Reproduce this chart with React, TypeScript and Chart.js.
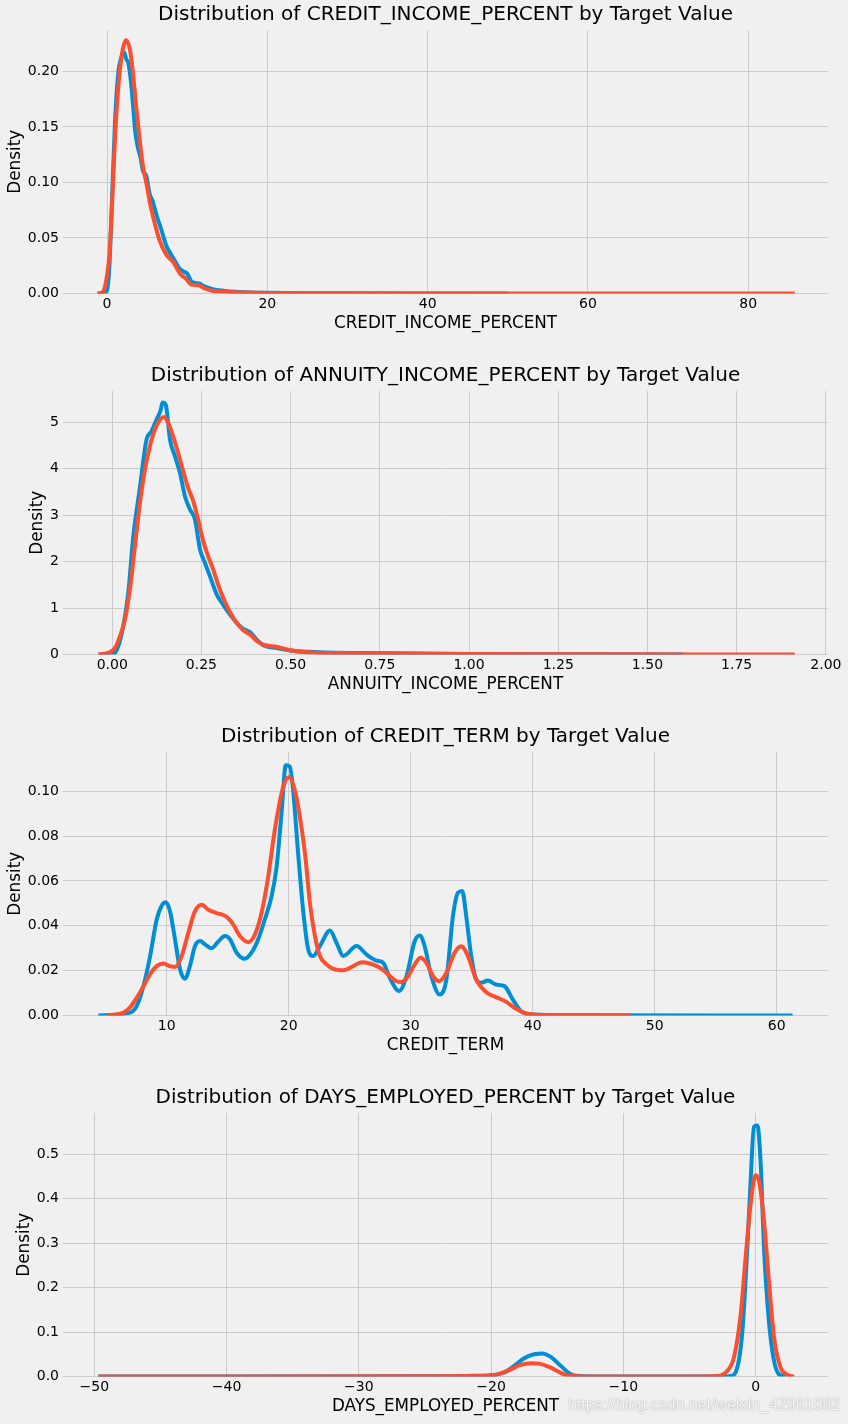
import React, { useEffect, useRef } from "react";
import { Chart, registerables } from "chart.js";

Chart.register(...registerables);

const FONT = "'DejaVu Sans', sans-serif";
const BLUE = "#008fd5";
const ORANGE = "#fc4f30";
const GRID = "#cbcbcb";

// ---------- Panel 1: CREDIT_INCOME_PERCENT ----------
const creditIncomeX0 = [-1.2, -0.5, 0, 0.3, 0.6, 1.0, 1.4, 1.8, 2.15, 2.4, 2.65, 3.0, 3.3, 3.5, 3.9, 4.2, 4.5, 4.9, 5.3, 5.7, 6.2, 6.8, 7.4, 8.0, 8.5, 9.0, 9.5, 10.0, 10.5, 11.0, 11.5, 12.0, 12.7, 13.5, 14.5, 16, 18, 20, 25, 30, 40, 50];
const creditIncomeY0 = [0, 0, 0.003, 0.025, 0.08, 0.155, 0.198, 0.213, 0.217, 0.211, 0.208, 0.19, 0.165, 0.147, 0.13, 0.122, 0.11, 0.106, 0.09, 0.083, 0.07, 0.057, 0.043, 0.035, 0.029, 0.023, 0.02, 0.018, 0.011, 0.0095, 0.009, 0.007, 0.005, 0.0035, 0.0025, 0.0015, 0.0009, 0.0006, 0.0003, 0.0002, 0.0001, 0];
const creditIncomeX1 = [-1.1, -0.5, 0, 0.3, 0.6, 1.0, 1.4, 1.8, 2.1, 2.4, 2.9, 3.3, 3.7, 4.1, 4.5, 4.95, 5.4, 6.0, 6.6, 7.4, 8.3, 9.1, 9.9, 10.5, 11.4, 12.2, 13.1, 14.5, 17, 20, 30, 50, 85.8];
const creditIncomeY1 = [0, 0.0015, 0.016, 0.035, 0.075, 0.14, 0.185, 0.213, 0.224, 0.228, 0.218, 0.194, 0.164, 0.137, 0.114, 0.098, 0.08, 0.062, 0.047, 0.035, 0.028, 0.018, 0.013, 0.008, 0.0075, 0.0045, 0.0025, 0.0015, 0.0009, 0.0005, 0.0002, 0.0001, 0];
const creditIncomeXTicks = [0, 20, 40, 60, 80];
const creditIncomeYTicks = [0, 0.05, 0.1, 0.15, 0.2];

// ---------- Panel 2: ANNUITY_INCOME_PERCENT ----------
const annuityX0 = [-0.035, 0.003, 0.017, 0.031, 0.045, 0.059, 0.078, 0.096, 0.11, 0.124, 0.1355, 0.141, 0.15, 0.162, 0.176, 0.19, 0.204, 0.218, 0.232, 0.246, 0.26, 0.274, 0.293, 0.311, 0.33, 0.349, 0.367, 0.386, 0.405, 0.423, 0.461, 0.498, 0.545, 0.7, 1.0, 1.3, 1.6];
const annuityY0 = [0, 0.01, 0.18, 0.61, 1.33, 2.54, 3.62, 4.62, 4.8, 5.05, 5.25, 5.42, 5.37, 4.62, 4.26, 3.9, 3.4, 3.12, 2.9, 2.26, 1.97, 1.68, 1.29, 1.07, 0.86, 0.68, 0.55, 0.48, 0.32, 0.2, 0.14, 0.086, 0.057, 0.03, 0.012, 0.005, 0];
const annuityX1 = [-0.039, -0.007, 0.0075, 0.0215, 0.0355, 0.0495, 0.0636, 0.0776, 0.0916, 0.1056, 0.1196, 0.1336, 0.145, 0.157, 0.171, 0.185, 0.199, 0.213, 0.227, 0.241, 0.255, 0.269, 0.283, 0.297, 0.311, 0.33, 0.349, 0.367, 0.386, 0.405, 0.423, 0.461, 0.498, 0.545, 0.638, 1.0, 1.5, 1.913];
const annuityY1 = [0, 0.05, 0.14, 0.39, 0.75, 1.4, 2.33, 3.26, 3.98, 4.48, 4.84, 5.05, 5.11, 4.98, 4.69, 4.33, 3.94, 3.58, 3.3, 2.9, 2.44, 2.11, 1.83, 1.5, 1.22, 0.91, 0.68, 0.52, 0.43, 0.29, 0.21, 0.165, 0.093, 0.05, 0.03, 0.01, 0.003, 0];
const annuityXTicks = [0, 0.25, 0.5, 0.75, 1.0, 1.25, 1.5, 1.75, 2.0];
const annuityYTicks = [0, 1, 2, 3, 4, 5];

// ---------- Panel 3: CREDIT_TERM ----------
const creditTermX0 = [4.4, 7.0, 7.55, 8.09, 8.64, 9.18, 9.59, 9.92, 10.27, 10.68, 11.09, 11.5, 11.9, 12.32, 12.73, 13.14, 13.68, 14.23, 14.77, 15.18, 15.73, 16.41, 16.95, 17.5, 18.04, 18.59, 19.0, 19.41, 19.76, 20.09, 20.36, 20.77, 21.18, 21.6, 22.0, 22.56, 23.38, 23.92, 24.47, 25.56, 26.38, 27.19, 27.74, 28.28, 29.05, 29.65, 30.33, 30.74, 31.14, 31.69, 32.37, 32.92, 33.46, 33.87, 34.22, 34.55, 34.96, 35.37, 35.78, 36.32, 37.0, 37.68, 38.37, 39.05, 40.0, 45, 61.3];
const creditTermY0 = [0, 0.0013, 0.0043, 0.013, 0.0265, 0.0428, 0.049, 0.0505, 0.0465, 0.034, 0.0206, 0.0164, 0.022, 0.031, 0.0332, 0.0317, 0.03, 0.033, 0.0354, 0.034, 0.028, 0.0253, 0.028, 0.034, 0.0428, 0.053, 0.066, 0.09, 0.1116, 0.111, 0.1005, 0.0724, 0.047, 0.0294, 0.0265, 0.031, 0.0379, 0.0324, 0.0265, 0.031, 0.0272, 0.0245, 0.0235, 0.0168, 0.0109, 0.0175, 0.0332, 0.0357, 0.031, 0.0175, 0.0094, 0.016, 0.0443, 0.0547, 0.0555, 0.0443, 0.0265, 0.016, 0.0146, 0.0156, 0.0138, 0.0131, 0.0071, 0.0019, 0.0004, 0.0001, 0];
const creditTermX1 = [5.2, 6.45, 7.0, 7.55, 8.09, 8.64, 9.18, 9.73, 10.27, 10.68, 11.23, 11.77, 12.32, 12.86, 13.41, 14.09, 14.91, 15.45, 16.0, 16.68, 17.23, 17.77, 18.32, 18.86, 19.55, 20.04, 20.5, 20.93, 21.34, 21.74, 22.15, 22.56, 23.1, 23.65, 24.47, 25.28, 25.97, 26.65, 27.47, 28.15, 28.83, 29.24, 29.78, 30.33, 30.79, 31.28, 31.83, 32.32, 32.92, 33.6, 34.14, 34.69, 35.37, 36.19, 37.0, 37.82, 38.64, 39.46, 40.27, 44, 48.0];
const creditTermY1 = [0, 0.0013, 0.0036, 0.008, 0.013, 0.0184, 0.022, 0.0232, 0.022, 0.0216, 0.0265, 0.0369, 0.0465, 0.0494, 0.0472, 0.0457, 0.044, 0.0406, 0.0354, 0.0327, 0.0361, 0.0457, 0.062, 0.0828, 0.102, 0.1064, 0.1005, 0.088, 0.072, 0.05, 0.0354, 0.0265, 0.0228, 0.0208, 0.0202, 0.022, 0.0238, 0.0232, 0.0213, 0.0183, 0.0153, 0.0149, 0.0175, 0.0228, 0.0257, 0.0235, 0.0175, 0.0153, 0.019, 0.028, 0.0309, 0.0265, 0.016, 0.0104, 0.0082, 0.0061, 0.003, 0.0009, 0.0003, 0.0001, 0];
const creditTermXTicks = [10, 20, 30, 40, 50, 60];
const creditTermYTicks = [0, 0.02, 0.04, 0.06, 0.08, 0.1];

// ---------- Panel 4: DAYS_EMPLOYED_PERCENT ----------
const daysEmployedX0 = [-49.7, -25, -21.3, -20.0, -19.0, -18.26, -17.5, -16.75, -16.12, -15.49, -14.74, -13.98, -13.22, -12, -5, -2.5, -1.89, -1.39, -1.0, -0.63, -0.38, -0.13, 0.13, 0.38, 0.63, 1.0, 1.39, 1.76, 2.27];
const daysEmployedY0 = [0, 0.0005, 0.0015, 0.003, 0.009, 0.024, 0.041, 0.05, 0.052, 0.044, 0.024, 0.005, 0.001, 0, 0, 0, 0.0015, 0.02, 0.103, 0.29, 0.44, 0.562, 0.565, 0.479, 0.29, 0.125, 0.035, 0.005, 0];
const daysEmployedX1 = [-49.7, -25, -20.0, -18.77, -17.76, -17.0, -16.37, -15.49, -14.48, -13.73, -12.5, -5, -2.9, -2.14, -1.64, -1.13, -0.76, -0.38, 0, 0.25, 0.63, 1.0, 1.39, 1.89, 2.39, 2.9];
const daysEmployedY1 = [0, 0.0005, 0.002, 0.0128, 0.026, 0.03, 0.029, 0.02, 0.005, 0.001, 0, 0, 0.001, 0.013, 0.043, 0.14, 0.268, 0.389, 0.453, 0.441, 0.351, 0.216, 0.088, 0.02, 0.004, 0];
const daysEmployedXTicks = [-50, -40, -30, -20, -10, 0];
const daysEmployedYTicks = [0, 0.1, 0.2, 0.3, 0.4, 0.5];

type PanelSpec = {
  title: string;
  xLabel: string;
  x0: number[];
  y0: number[];
  x1: number[];
  y1: number[];
  xTicks: number[];
  yTicks: number[];
  xMin: number;
  xMax: number;
  yMax: number;
  xDec: number;
  yDec: number;
  top: number;
  yTitlePad: number;
};

const panels: PanelSpec[] = [
  {
    title: "Distribution of CREDIT_INCOME_PERCENT by Target Value",
    xLabel: "CREDIT_INCOME_PERCENT",
    x0: creditIncomeX0, y0: creditIncomeY0, x1: creditIncomeX1, y1: creditIncomeY1,
    xTicks: creditIncomeXTicks, yTicks: creditIncomeYTicks,
    xMin: -5.49, xMax: 89.95, yMax: 0.2373, xDec: 0, yDec: 2, top: 0, yTitlePad: 6,
  },
  {
    title: "Distribution of ANNUITY_INCOME_PERCENT by Target Value",
    xLabel: "ANNUITY_INCOME_PERCENT",
    x0: annuityX0, y0: annuityY0, x1: annuityX1, y1: annuityY1,
    xTicks: annuityXTicks, yTicks: annuityYTicks,
    xMin: -0.138, xMax: 2.006, yMax: 5.67, xDec: 2, yDec: 0, top: 361, yTitlePad: 28,
  },
  {
    title: "Distribution of CREDIT_TERM by Target Value",
    xLabel: "CREDIT_TERM",
    x0: creditTermX0, y0: creditTermY0, x1: creditTermX1, y1: creditTermY1,
    xTicks: creditTermXTicks, yTicks: creditTermYTicks,
    xMin: 1.5, xMax: 64.2, yMax: 0.1175, xDec: 0, yDec: 2, top: 722, yTitlePad: 6,
  },
  {
    title: "Distribution of DAYS_EMPLOYED_PERCENT by Target Value",
    xLabel: "DAYS_EMPLOYED_PERCENT",
    x0: daysEmployedX0, y0: daysEmployedY0, x1: daysEmployedX1, y1: daysEmployedY1,
    xTicks: daysEmployedXTicks, yTicks: daysEmployedYTicks,
    xMin: -52.37, xMax: 5.47, yMax: 0.593, xDec: 0, yDec: 1, top: 1083, yTitlePad: 15,
  },
];

function fmt(v: number, d: number): string {
  const s = Math.abs(v).toFixed(d);
  return v < 0 ? "\u2212" + s : s;
}

function Panel({ spec }: { spec: PanelSpec }) {
  const ref = useRef<HTMLCanvasElement>(null);
  useEffect(() => {
    const canvas = ref.current;
    if (!canvas) return;
    const chart = new Chart(canvas, {
      type: "line",
      data: {
        datasets: [
          {
            label: "TARGET == 1",
            data: spec.x1.map((x, i) => ({ x, y: spec.y1[i] })),
            borderColor: ORANGE,
            backgroundColor: ORANGE,
            order: 1,
            clip: 0,
          },
          {
            label: "TARGET == 0",
            data: spec.x0.map((x, i) => ({ x, y: spec.y0[i] })),
            borderColor: BLUE,
            backgroundColor: BLUE,
            order: 2,
            clip: 0,
          },
        ],
      },
      options: {
        animation: false,
        responsive: false,
        devicePixelRatio: 1,
        layout: { padding: { left: 0, right: 20, top: 0, bottom: 0 } },
        elements: {
          line: {
            borderWidth: 4,
            cubicInterpolationMode: "monotone",
            borderCapStyle: "butt",
            borderJoinStyle: "round",
            fill: false,
          },
          point: { radius: 0, hoverRadius: 0 },
        },
        plugins: {
          legend: { display: false },
          tooltip: { enabled: false },
          title: {
            display: true,
            text: spec.title,
            fullSize: false,
            color: "#000",
            font: { family: FONT, size: 20, weight: "normal", lineHeight: 1.2 },
            padding: { top: 3, bottom: 3 },
          },
        },
        scales: {
          x: {
            type: "linear",
            min: spec.xMin,
            max: spec.xMax,
            afterBuildTicks: (s: any) => {
              s.ticks = spec.xTicks.map((v) => ({ value: v }));
            },
            afterFit: (s: any) => {
              s.height = 45.5;
            },
            ticks: {
              autoSkip: false,
              maxRotation: 0,
              padding: 2,
              color: "#000",
              font: { family: FONT, size: 14 },
              callback: (v: any) => fmt(Number(v), spec.xDec),
            },
            grid: { color: GRID, lineWidth: 1, drawTicks: false },
            border: { display: false },
            title: {
              display: true,
              text: spec.xLabel,
              color: "#000",
              font: { family: FONT, size: 16.8 },
              padding: { top: 0, bottom: 5.4 },
            },
          },
          y: {
            type: "linear",
            min: 0,
            max: spec.yMax,
            afterBuildTicks: (s: any) => {
              s.ticks = spec.yTicks.map((v) => ({ value: v }));
            },
            afterFit: (s: any) => {
              s.width = 63;
            },
            ticks: {
              autoSkip: false,
              padding: 4,
              color: "#000",
              font: { family: FONT, size: 14 },
              callback: (v: any) => fmt(Number(v), spec.yDec),
            },
            grid: { color: GRID, lineWidth: 1, drawTicks: false },
            border: { display: false },
            title: {
              display: true,
              text: "Density",
              color: "#000",
              font: { family: FONT, size: 16.8 },
              padding: { top: spec.yTitlePad, bottom: 0 },
            },
          },
        },
      },
    } as any);
    return () => chart.destroy();
  }, [spec]);
  return (
    <canvas
      ref={ref}
      width={848}
      height={339}
      style={{ position: "absolute", left: 0, top: spec.top, display: "block", width: 848, height: 339 }}
    />
  );
}

export default function App() {
  return (
    <div
      style={{
        position: "absolute",
        left: 0,
        top: 0,
        width: 848,
        height: 1424,
        background: "#f0f0f0",
        overflow: "hidden",
      }}
    >
      {panels.map((p) => (
        <Panel key={p.title} spec={p} />
      ))}
      <span
        style={{
          position: "absolute",
          left: 568,
          top: 1396,
          fontFamily: "'Liberation Sans', Arial, sans-serif",
          fontSize: 16,
          lineHeight: "18px",
          color: "rgba(255,255,255,0.9)",
          textShadow: "0 0 1.5px rgba(0,0,0,0.45)",
          whiteSpace: "nowrap",
        }}
      >
        https://blog.csdn.net/weixin_42961082
      </span>
    </div>
  );
}
